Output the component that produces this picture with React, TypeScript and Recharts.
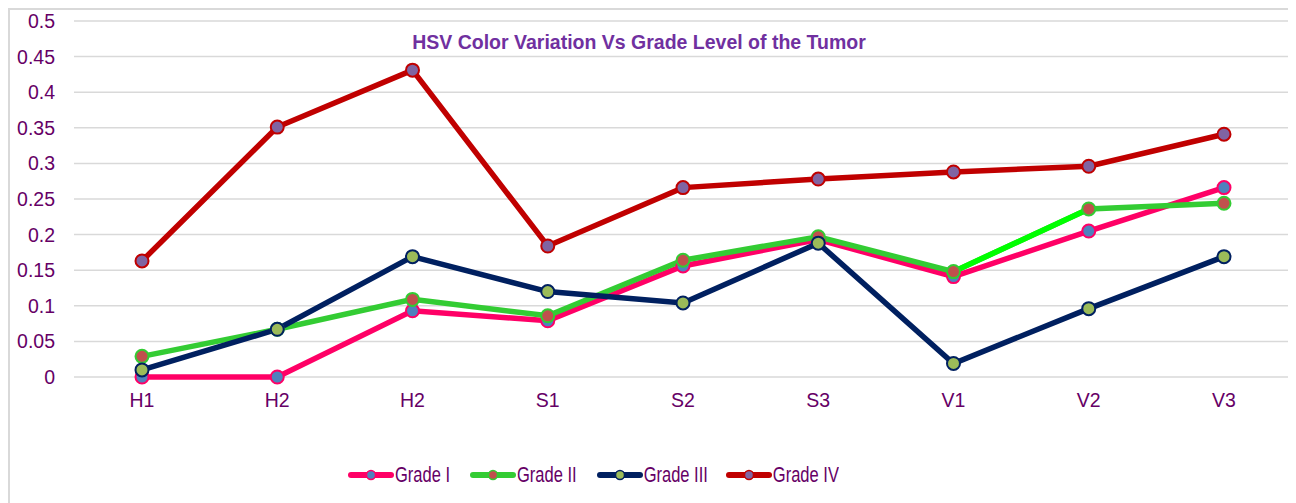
import { CartesianGrid, Legend, Line, LineChart, XAxis, YAxis } from 'recharts'

const categories = ['H1', 'H2', 'H2', 'S1', 'S2', 'S3', 'V1', 'V2', 'V3']
const gradeI = [0, 0, 0.093, 0.079, 0.156, 0.193, 0.141, 0.205, 0.266]
const gradeII = [0.029, 0.067, 0.109, 0.086, 0.164, 0.197, 0.148, 0.236, 0.244]
// V1 -> V2 segment of Grade II is drawn in a brighter green in the source
const gradeIIBright = [null, null, null, null, null, null, 0.148, 0.236, null]
const gradeIII = [0.01, 0.067, 0.169, 0.12, 0.104, 0.188, 0.019, 0.096, 0.169]
const gradeIV = [0.163, 0.351, 0.431, 0.184, 0.266, 0.278, 0.288, 0.296, 0.341]
const yTicks = [0, 0.05, 0.1, 0.15, 0.2, 0.25, 0.3, 0.35, 0.4, 0.45, 0.5]

const SERIES = [
  { name: 'Grade I', line: '#ff0066', fill: '#4f81bd' },
  { name: 'Grade II', line: '#33cc33', fill: '#c0504d' },
  { name: 'Grade III', line: '#002060', fill: '#9bbb59' },
  { name: 'Grade IV', line: '#c00000', fill: '#8064a2' },
]

const TEXT = '#660066'
const FONT = 'Arial, "Liberation Sans", sans-serif'

const data = categories.map((c, i) => ({
  name: c,
  g1: gradeI[i],
  g2: gradeII[i],
  g2b: gradeIIBright[i],
  g3: gradeIII[i],
  g4: gradeIV[i],
}))

const LEGEND_GAP = [20, 20, 18, 0]

function LegendContent() {
  return (
    <div style={{ display: 'flex', alignItems: 'center', fontFamily: FONT }}>
      {SERIES.map((s, i) => (
        <div key={s.name} style={{ display: 'flex', alignItems: 'center', marginRight: LEGEND_GAP[i] }}>
          <svg width={46} height={14} style={{ marginRight: 1 }}>
            <line x1={3} y1={7} x2={43} y2={7} stroke={s.line} strokeWidth={6} strokeLinecap="round" />
            <circle cx={23} cy={7} r={4.5} fill={s.fill} stroke={s.line} strokeWidth={1.5} />
          </svg>
          <span style={{ color: TEXT, fontSize: 16.5, display: 'inline-block', transform: 'scaleY(1.3)' }}>
            {s.name}
          </span>
        </div>
      ))}
    </div>
  )
}

export default function App() {
  const dot = (s: typeof SERIES[0]) => ({ r: 6.5, fill: s.fill, stroke: s.line, strokeWidth: 2 })
  return (
    <div
      style={{
        position: 'relative',
        width: 1288,
        height: 495,
        borderTop: '2px solid #d9d9d9',
        borderLeft: '2px solid #d9d9d9',
        boxSizing: 'border-box',
        background: '#fff',
        fontFamily: FONT,
      }}
    >
      <style>{'html,body{overflow:hidden}'}</style>
      <div
        style={{
          position: 'absolute',
          top: 21,
          left: 0,
          width: 1258,
          textAlign: 'center',
          color: '#7030a0',
          fontWeight: 700,
          fontSize: 19.5,
          zIndex: 2,
        }}
      >
        HSV Color Variation Vs Grade Level of the Tumor
      </div>
      <div style={{ position: 'absolute', top: -2, left: -2 }}>
        <LineChart width={1288} height={495} data={data} margin={{ top: 13, right: 4, bottom: 77, left: 0 }}>
          <CartesianGrid vertical={false} stroke="#d9d9d9" strokeWidth={1.5} />
          <XAxis
            dataKey="name"
            axisLine={false}
            tickLine={false}
            tickSize={0}
            tickMargin={16}
            padding={{ left: 68, right: 68 }}
            tick={{ fill: TEXT, fontSize: 19.5 }}
            height={30}
          />
          <YAxis
            domain={[0, 0.5]}
            ticks={yTicks}
            axisLine={false}
            tickLine={false}
            tickSize={0}
            tickMargin={19}
            width={66}
            tick={{ fill: TEXT, fontSize: 19.5 }}
          />
          <Legend
            content={<LegendContent />}
            wrapperStyle={{ position: 'absolute', top: 457, left: 340, width: 'auto' }}
          />
          <Line dataKey="g1" stroke={SERIES[0].line} strokeWidth={5.5} dot={dot(SERIES[0])} isAnimationActive={false} />
          <Line dataKey="g2" stroke={SERIES[1].line} strokeWidth={5.5} dot={false} isAnimationActive={false} />
          <Line dataKey="g2b" stroke="#00ff00" strokeWidth={5.5} dot={false} isAnimationActive={false} legendType="none" />
          <Line dataKey="g2" stroke="none" dot={dot(SERIES[1])} isAnimationActive={false} legendType="none" />
          <Line dataKey="g3" stroke={SERIES[2].line} strokeWidth={5.5} dot={dot(SERIES[2])} isAnimationActive={false} />
          <Line dataKey="g4" stroke={SERIES[3].line} strokeWidth={5.5} dot={dot(SERIES[3])} isAnimationActive={false} />
        </LineChart>
      </div>
    </div>
  )
}
